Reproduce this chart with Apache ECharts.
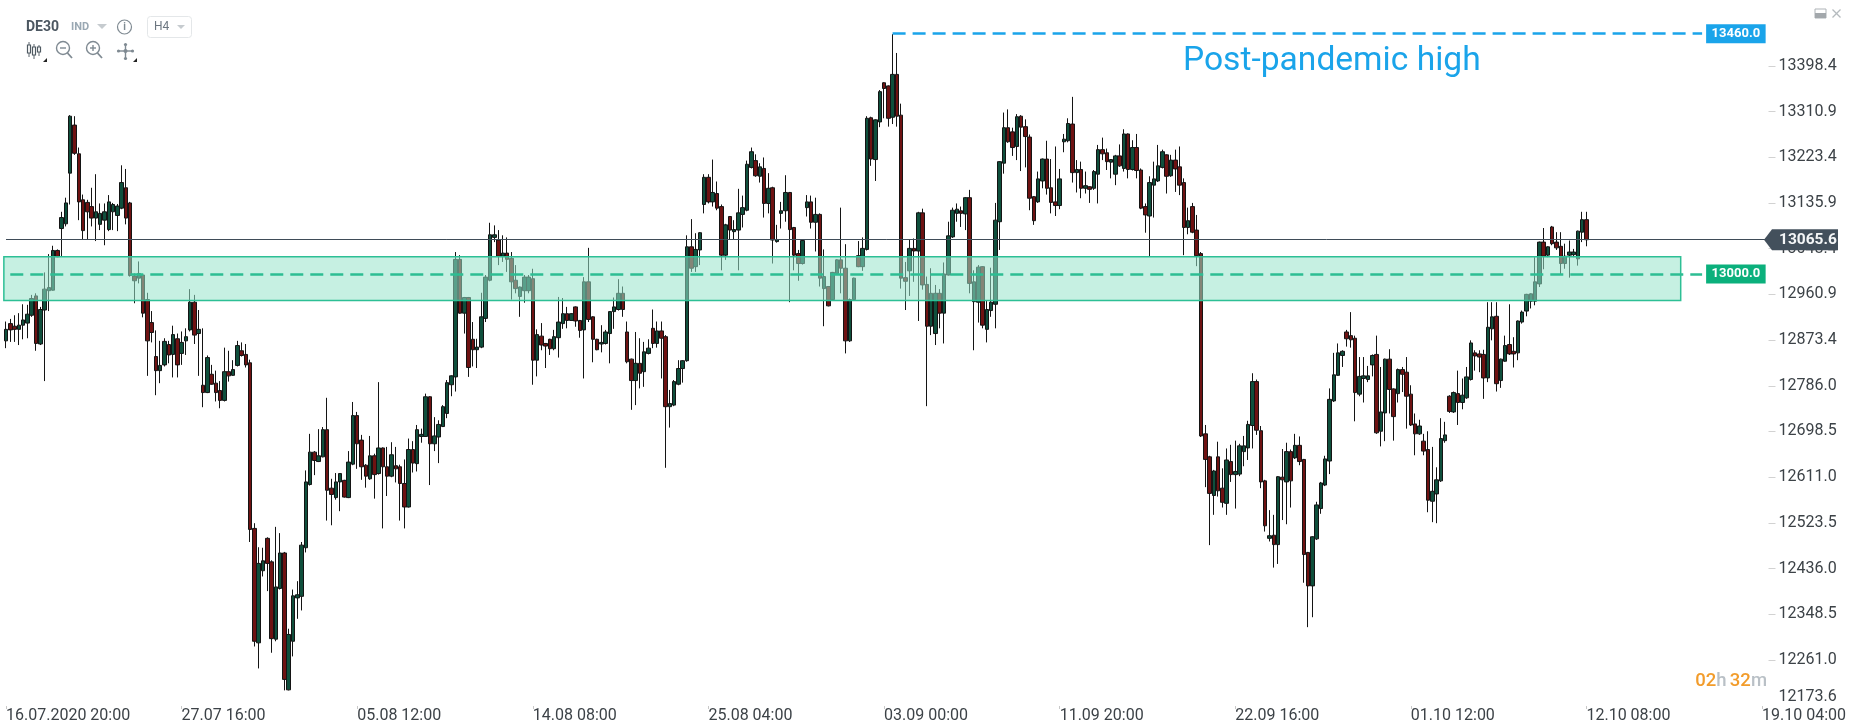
<!DOCTYPE html>
<html><head><meta charset="utf-8"><style>html,body{margin:0;padding:0;background:#fff}#c{width:1851px;height:726px}</style>
<script src="https://cdn.jsdelivr.net/npm/echarts@6/dist/echarts.min.js"></script></head><body><div id="c"></div><script>
// each row: open, close, low, high  — grouped by the x-axis tick interval they start in
var bars_0716=[[12872,12894,12858,12909],[12905,12893,12870,12914],[12900,12894,12870,12921],[12894,12902,12864,12925],[12902,12912,12875,12942],[12906,12923,12877,12941],[12921,12953,12918,12960],[12958,12867,12853,12963],[12866,12932,12864,12937],[12931,12971,12795,13003],[12968,12974,12929,13038],[12969,13045,12968,13054],[13045,13033,13032,13047],[13087,13108,13033,13119],[13096,13136,13091,13146],[13193,13302,13133,13304],[13285,13231,13228,13302],[13230,13138,13103,13242],[13142,13083,13066,13152],[13137,13119,13066,13142],[13129,13107,13091,13165],[13107,13119,13063,13191],[13095,13116,13084,13135],[13103,13119,13055,13135],[13085,13138,13082,13151],[13119,13133,13084,13136],[13112,13130,13082,13134],[13126,13175,13124,13208],[13165,13107,13095,13201],[13136,12997,12995,13138],[12996,12987,12944,13001],[12992,13001,12982,13024],[12998,12925,12917,13000],[12951,12872,12805,12964],[12907,12888,12869,12929],[12842,12815,12768,12892],[12815,12825,12791,12872],[12826,12871,12823,12877],[12865,12845,12829,12872],[12846,12884,12802,12901],[12876,12826,12802,12886]];
var bars_0727=[[12848,12869,12826,12890],[12872,12880,12845,12896],[12893,12946,12890,12971],[12946,12883,12866,12960],[12886,12894,12805,12931],[12787,12773,12745,12896],[12773,12840,12772,12844],[12808,12789,12788,12826],[12791,12773,12756,12815],[12777,12758,12743,12795],[12758,12813,12756,12859],[12813,12805,12794,12853],[12806,12817,12805,12835],[12825,12863,12823,12872],[12853,12844,12842,12869],[12846,12826,12821,12866],[12830,12511,12487,12836],[12513,12297,12287,12523],[12294,12446,12245,12477],[12432,12451,12421,12476],[12494,12446,12393,12496],[12449,12302,12275,12452],[12301,12401,12297,12516],[12398,12466,12396,12504],[12466,12224,12203,12468],[12204,12310,12203,12321],[12297,12384,12268,12396],[12380,12386,12340,12412],[12383,12481,12356,12487],[12476,12602,12467,12624],[12597,12659,12595,12694],[12659,12643,12615,12661],[12641,12652,12640,12703],[12650,12702,12649,12707],[12702,12586,12528,12763],[12590,12578,12519,12608],[12572,12602,12568,12619],[12602,12618,12546,12619],[12605,12573,12572,12606],[12572,12640,12571,12661],[12636,12729,12634,12755]];
var bars_0805=[[12729,12675,12627,12736],[12682,12631,12606,12692],[12634,12613,12591,12636],[12608,12652,12606,12690],[12652,12616,12570,12656],[12618,12667,12616,12793],[12667,12631,12513,12668],[12631,12613,12575,12669],[12613,12654,12611,12678],[12633,12627,12601,12669],[12631,12599,12528,12635],[12599,12554,12513,12645],[12554,12664,12553,12685],[12664,12638,12620,12680],[12637,12702,12622,12711],[12689,12693,12677,12704],[12689,12765,12688,12771],[12765,12675,12596,12766],[12675,12690,12661,12726],[12688,12712,12638,12720],[12708,12746,12707,12749],[12733,12792,12724,12797],[12788,12805,12766,12806],[12803,13028,12775,13042],[13028,12925,12924,13036],[12925,12955,12886,12956],[12955,12821,12803,12956],[12875,12855,12823,12908],[12855,12860,12820,12876],[12860,12918,12858,12964],[12915,12994,12908,12998],[12988,13075,12986,13098],[13070,13075,13061,13093],[13065,13034,13017,13084],[13034,13040,13023,13074],[13040,13028,13004,13070],[13030,12985,12951,13042],[12988,12972,12963,13017],[12957,12975,12918,12976],[12968,12994,12945,12998],[12968,12994,12963,12998]];
var bars_0814=[[12991,12835,12788,13010],[12835,12884,12804,12894],[12881,12864,12854,12906],[12867,12862,12820,12868],[12875,12857,12845,12876],[12857,12880,12854,12893],[12878,12908,12840,12956],[12905,12924,12895,12954],[12924,12911,12896,12937],[12911,12924,12911,12925],[12937,12910,12899,12938],[12911,12892,12878,12912],[12893,12985,12800,12994],[12985,12913,12908,13050],[12918,12875,12831,12919],[12875,12855,12854,12876],[12866,12869,12850,12902],[12867,12889,12865,12893],[12886,12928,12829,12929],[12928,12937,12895,12955],[12932,12963,12930,12990],[12963,12932,12918,12976],[12889,12832,12829,12909],[12837,12796,12740,12838],[12796,12829,12749,12889],[12829,12810,12781,12877],[12813,12851,12784,12870],[12848,12858,12846,12875],[12896,12867,12858,12932],[12867,12891,12859,12909],[12891,12877,12800,12909],[12880,12746,12629,12883],[12746,12752,12706,12778],[12749,12794,12747,12797],[12789,12819,12787,12835],[12819,12834,12792,12835],[12834,13052,12832,13074],[13052,13011,13004,13105],[13014,13047,13004,13078],[13046,13079,13017,13080],[13133,13185,13116,13191]];
var bars_0825=[[13185,13138,13135,13191],[13138,13156,13129,13219],[13154,13126,13122,13177],[13129,13036,13007,13133],[13036,13094,13027,13096],[13110,13084,13066,13111],[13081,13085,13066,13103],[13084,13117,13007,13163],[13114,13127,13089,13150],[13122,13210,13120,13217],[13204,13234,13202,13242],[13217,13188,13186,13229],[13187,13205,13175,13212],[13202,13135,13108,13223],[13135,13164,13116,13193],[13165,13065,13020,13167],[13062,13066,13060,13094],[13116,13121,13087,13138],[13121,13156,13100,13189],[13156,13085,12946,13157],[13089,13036,13007,13090],[13039,13020,12987,13046],[13020,13064,13018,13065],[13127,13138,13110,13151],[13138,13099,13087,13150],[13099,13114,13043,13146],[13114,12992,12976,13116],[12972,12995,12900,13047],[12976,12939,12938,12977],[12951,13003,12950,13004],[13001,13027,13001,13028],[13027,13011,12963,13127],[13011,12872,12848,13057],[12872,12951,12870,12953],[12951,12992,12950,12993],[13035,13014,13013,13063],[13014,13049,13006,13070],[13047,13298,13045,13302],[13299,13220,13207,13301],[13219,13295,13178,13296],[13291,13349,13281,13352]];
var bars_0903=[[13366,13355,13298,13367],[13360,13298,13282,13361],[13300,13382,13287,13459],[13382,13302,13282,13423],[13304,12992,12972,13326],[12993,12986,12931,13023],[13006,13049,12958,13065],[13049,13044,12985,13068],[13044,13117,12910,13119],[13117,12979,12970,13125],[12980,12900,12747,12995],[12900,12963,12883,13011],[12886,12963,12864,12979],[12963,12925,12896,12971],[12925,13000,12867,13022],[12998,13073,12997,13100],[13071,13122,13069,13127],[13116,13124,13100,13135],[13121,13116,13090,13129],[13115,13146,13084,13147],[13146,12982,12963,13161],[12947,12985,12854,13007],[12946,13013,12907,13017],[13014,12902,12896,13015],[12894,12932,12869,12949],[12930,12946,12918,13012],[12942,13103,12896,13136],[13100,13215,13046,13216],[13212,13280,13192,13309],[13280,13253,13251,13315],[13272,13242,13226,13280],[13244,13301,13218,13306],[13302,13281,13197,13304],[13282,13263,13204,13296],[13262,13145,13122,13267],[13148,13102,13094,13149],[13138,13182,13136,13196],[13178,13220,13164,13221],[13220,13164,13152,13255],[13165,13137,13116,13220],[13138,13131,13111,13244]];
var bars_0911=[[13131,13182,13124,13201],[13253,13258,13233,13268],[13255,13288,13252,13298],[13287,13194,13175,13339],[13194,13200,13156,13218],[13200,13164,13145,13215],[13164,13169,13154,13196],[13167,13162,13136,13168],[13164,13196,13161,13199],[13191,13238,13135,13247],[13238,13230,13218,13261],[13232,13215,13199,13240],[13214,13219,13183,13220],[13191,13226,13170,13228],[13226,13207,13205,13248],[13202,13268,13196,13277],[13268,13200,13183,13269],[13200,13242,13198,13256],[13242,13198,13183,13268],[13199,13126,13124,13202],[13129,13113,13079,13135],[13111,13175,13033,13187],[13170,13182,13108,13215],[13178,13207,13176,13247],[13204,13234,13202,13238],[13228,13187,13154,13229],[13188,13218,13186,13228],[13218,13201,13157,13238],[13205,13170,13151,13244],[13175,13089,13036,13183],[13089,13102,13076,13127],[13129,13080,13078,13136],[13084,13035,13015,13113],[13039,12690,12688,13042],[12694,12645,12592,12711],[12650,12580,12481,12652],[12576,12623,12539,12625],[12650,12585,12574,12679],[12590,12563,12553,12628],[12561,12644,12539,12666],[12641,12616,12602,12673]];
var bars_0922=[[12616,12622,12551,12681],[12617,12671,12613,12675],[12660,12671,12632,12690],[12667,12712,12644,12719],[12710,12794,12666,12810],[12794,12701,12692,12798],[12700,12602,12590,12709],[12604,12518,12507,12606],[12494,12499,12488,12548],[12500,12482,12438,12539],[12482,12612,12445,12613],[12611,12606,12529,12665],[12602,12660,12521,12677],[12660,12604,12553,12664],[12648,12672,12646,12694],[12672,12641,12634,12689],[12645,12463,12409,12646],[12467,12403,12324,12468],[12403,12497,12343,12498],[12493,12558,12491,12564],[12551,12600,12541,12602],[12596,12646,12594,12652],[12642,12760,12617,12781],[12757,12807,12755,12849],[12806,12849,12805,12867],[12844,12852,12822,12854],[12889,12876,12861,12893],[12882,12874,12859,12927],[12877,12773,12718,12882],[12770,12804,12766,12841],[12800,12805,12754,12841],[12798,12805,12793,12824],[12826,12844,12804,12846],[12846,12696,12694,12882],[12699,12736,12670,12822],[12734,12837,12680,12838],[12837,12779,12733,12856],[12780,12727,12681,12781],[12771,12817,12754,12819],[12817,12808,12774,12822],[12812,12766,12704,12841]];
var bars_1001=[[12770,12711,12709,12787],[12713,12694,12653,12733],[12694,12709,12692,12721],[12680,12661,12653,12694],[12664,12567,12544,12699],[12565,12584,12525,12669],[12579,12606,12523,12630],[12604,12685,12602,12724],[12681,12692,12677,12717],[12766,12737,12734,12768],[12736,12773,12734,12775],[12771,12754,12711,12815],[12754,12768,12741,12800],[12763,12803,12761,12822],[12798,12868,12796,12873],[12849,12843,12815,12854],[12847,12841,12812,12854],[12846,12801,12761,12855],[12801,12898,12793,12946],[12895,12918,12873,12946],[12919,12790,12775,12946],[12796,12837,12782,12838],[12833,12863,12832,12882],[12865,12847,12845,12942],[12852,12847,12821,12879],[12849,12910,12835,12911],[12908,12927,12905,12930],[12929,12961,12919,12962],[12948,12962,12934,12963],[12948,12985,12940,13032],[12981,13061,12975,13062],[13061,13034,13009,13088],[13036,13052,13032,13053],[13090,13058,13055,13092],[13061,13050,13046,13080],[13053,13020,13000,13080],[13020,13034,13010,13058],[13036,13042,12993,13064],[13037,13042,13032,13048],[13029,13082,13016,13083],[13080,13104,13061,13119]];
var bars_1012=[[13104,13065.6,13053,13119]];
var xTickLabels=['16.07.2020 20:00','27.07 16:00','05.08 12:00','14.08 08:00','25.08 04:00','03.09 00:00','11.09 20:00','22.09 16:00','01.10 12:00','12.10 08:00','19.10 04:00'];
var yTickValues=[13398.4,13310.9,13223.4,13135.9,13048.4,12960.9,12873.4,12786.0,12698.5,12611.0,12523.5,12436.0,12348.5,12261.0];
var yBottomLabel=12173.6;
var highLevel=13460, supportLevel=13000, bandTop=13033, bandBottom=12949, lastPrice=13065.6;

var TICK_EVERY=41, SLOTS=412;
var bars=[].concat(bars_0716,bars_0727,bars_0805,bars_0814,bars_0825,bars_0903,bars_0911,bars_0922,bars_1001,bars_1012);
var categories=[];for(var i=0;i<SLOTS;i++)categories.push(String(i));
var F='Roboto, sans-serif';
var BLUE='#1aa4ea', GREEN='#2dbd93', GREENTAG='#0bb07c';
var chart=echarts.init(document.getElementById('c'),null,{renderer:'canvas'});
var dashed=function(c,w){return {type:[13,7],color:c,width:w,opacity:1};};
chart.setOption({
  animation:false,
  backgroundColor:'#fff',
  grid:{left:3.86,right:82.5,top:0,height:706,containLabel:false},
  xAxis:{type:'category',data:categories,boundaryGap:true,
    axisLine:{show:false},
    axisTick:{show:true,alignWithLabel:true,length:3,lineStyle:{color:'#c8c8c8'},interval:function(i){return i%TICK_EVERY===0;}},
    axisLabel:{show:true,interval:function(i){return i%TICK_EVERY===0;},align:'left',margin:2,color:'#3c4247',fontFamily:F,fontSize:16,hideOverlap:false,
      formatter:function(v,i){return xTickLabels[i/TICK_EVERY]||'';}},
    splitLine:{show:false}},
  yAxis:{type:'value',position:'right',min:12173.1,max:13524.4,scale:true,
    axisLine:{show:false},
    axisTick:{show:true,length:7,lineStyle:{color:'#d2d2d2'},customValues:yTickValues},
    axisLabel:{show:true,margin:10,color:'#3c4247',fontFamily:F,fontSize:16,
      customValues:yTickValues.concat([yBottomLabel]),
      formatter:function(v){var s=v.toFixed(1);return v===yBottomLabel?'{b|'+s+'}':s;},
      rich:{b:{color:'#3c4247',fontFamily:F,fontSize:16,padding:[0,0,18,0]}}},
    splitLine:{show:false}},
  series:[
    {type:'candlestick',name:'DE30',data:bars,barWidth:4,z:2,clip:false,
      itemStyle:{color:'#0f4f3c',color0:'#6e1212',borderColor:'#141414',borderColor0:'#141414',borderWidth:1}},
    {type:'line',name:'levels',data:[],z:5,silent:true,
      markArea:{silent:true,z:5,itemStyle:{color:'rgba(151,227,202,0.55)',borderColor:'#2dbf95',borderWidth:1.5},
        data:[[{xAxis:'min',yAxis:bandTop},{xAxis:390.6,yAxis:bandBottom}]]},
      markLine:{silent:true,z:6,symbol:'none',animation:false,
        data:[
          [{coord:[207,highLevel],lineStyle:dashed(BLUE,2.5),label:{show:true,position:'end',formatter:highLevel.toFixed(1),backgroundColor:BLUE,color:'#fff',fontFamily:F,fontWeight:700,fontSize:13,padding:[3,5.5,3,5.5],distance:4,align:'left'}},{coord:[396,highLevel]}],
          [{coord:[1,supportLevel],lineStyle:dashed(GREEN,2.5),label:{show:true,position:'end',formatter:supportLevel.toFixed(1),backgroundColor:GREENTAG,color:'#fff',fontFamily:F,fontWeight:700,fontSize:13,padding:[3,5.5,3,5.5],distance:4,align:'left'}},{coord:[396,supportLevel]}],
          [{coord:[0,lastPrice],lineStyle:{type:'solid',color:'#3f4c58',width:1},label:{show:false}},{coord:[411,lastPrice]}]
        ]}}
  ]
});
var tagY=chart.convertToPixel({yAxisIndex:0},lastPrice);
var icon='#7f8a92';
var g=[
 {type:'text',left:1183,top:45,style:{text:'Post-pandemic high',fill:BLUE,font:'400 33.6px '+F}},
 {type:'polygon',shape:{points:[[1764,tagY],[1772,tagY-10.5],[1838,tagY-10.5],[1838,tagY+10.5],[1772,tagY+10.5]]},style:{fill:'#43505c'},z:20},
 {type:'text',z:21,style:{x:1779,y:tagY,text:lastPrice.toFixed(1),fill:'#f4f6f7',font:'700 15.5px '+F,verticalAlign:'middle'}},
 {type:'text',z:21,style:{x:1767,y:681,align:'right',verticalAlign:'middle',text:'{a|02}{b|h} {a|32}{b|m}',rich:{a:{fill:'#f29c2b',font:'500 18.5px '+F},b:{fill:'#b9c0c6',font:'500 18.5px '+F}}}},
 {type:'text',style:{x:26,y:27,text:'DE30',fill:'#4c5761',font:'700 14px '+F,verticalAlign:'middle'}},
 {type:'text',style:{x:71,y:27,text:'IND',fill:'#9aa8b3',font:'700 11px '+F,verticalAlign:'middle'}},
 {type:'polygon',shape:{points:[[97,24],[107,24],[102,29]]},style:{fill:'#c6cbcf'}},
 {type:'circle',shape:{cx:124.5,cy:27,r:7},style:{fill:'none',stroke:icon,lineWidth:1.2}},
 {type:'text',style:{x:124.5,y:27,text:'i',align:'center',verticalAlign:'middle',fill:icon,font:'700 10px '+F}},
 {type:'rect',shape:{x:147.5,y:16.5,width:44,height:21,r:3},style:{fill:'#fff',stroke:'#e4e7e9',lineWidth:1}},
 {type:'text',style:{x:154,y:27,text:'H4',fill:'#6c7680',font:'400 12px '+F,verticalAlign:'middle'}},
 {type:'polygon',shape:{points:[[177,25],[185,25],[181,29]]},style:{fill:'#c6cbcf'}},
 // candle icon
 {type:'line',shape:{x1:29,y1:42,x2:29,y2:57},style:{stroke:'#5b656d',lineWidth:1}},
 {type:'rect',shape:{x:27.5,y:45,width:3,height:8},style:{fill:'#fff',stroke:'#4f5a62',lineWidth:1.2}},
 {type:'line',shape:{x1:34,y1:44,x2:34,y2:59},style:{stroke:'#5b656d',lineWidth:1}},
 {type:'rect',shape:{x:32.5,y:47,width:3,height:8},style:{fill:'#fff',stroke:'#4f5a62',lineWidth:1.2}},
 {type:'line',shape:{x1:39,y1:45,x2:39,y2:56},style:{stroke:'#5b656d',lineWidth:1}},
 {type:'rect',shape:{x:37.5,y:47,width:3,height:5},style:{fill:'#fff',stroke:'#4f5a62',lineWidth:1.2}},
 {type:'polygon',shape:{points:[[47,58],[47,62],[43,62]]},style:{fill:'#222'}},
 // zoom out / in
 {type:'circle',shape:{cx:63,cy:48,r:6.5},style:{fill:'none',stroke:icon,lineWidth:1.4}},
 {type:'line',shape:{x1:67.5,y1:53,x2:72,y2:58},style:{stroke:icon,lineWidth:1.8}},
 {type:'line',shape:{x1:60,y1:48,x2:66,y2:48},style:{stroke:icon,lineWidth:1.4}},
 {type:'circle',shape:{cx:93,cy:48,r:6.5},style:{fill:'none',stroke:icon,lineWidth:1.4}},
 {type:'line',shape:{x1:97.5,y1:53,x2:102,y2:58},style:{stroke:icon,lineWidth:1.8}},
 {type:'line',shape:{x1:90,y1:48,x2:96,y2:48},style:{stroke:icon,lineWidth:1.4}},
 {type:'line',shape:{x1:93,y1:45,x2:93,y2:51},style:{stroke:icon,lineWidth:1.4}},
 // move
 {type:'line',shape:{x1:118,y1:51,x2:133,y2:51},style:{stroke:icon,lineWidth:1.4}},
 {type:'line',shape:{x1:125.5,y1:44,x2:125.5,y2:59},style:{stroke:icon,lineWidth:1.4}},
 {type:'circle',shape:{cx:125.5,cy:51,r:2},style:{fill:icon}},
 {type:'circle',shape:{cx:118.5,cy:51,r:1.6},style:{fill:icon}},
 {type:'circle',shape:{cx:132.5,cy:51,r:1.6},style:{fill:icon}},
 {type:'circle',shape:{cx:125.5,cy:44.5,r:1.6},style:{fill:icon}},
 {type:'circle',shape:{cx:125.5,cy:58.5,r:1.6},style:{fill:icon}},
 {type:'polygon',shape:{points:[[137,58],[137,62],[133,62]]},style:{fill:'#222'}},
 // window buttons
 {type:'rect',shape:{x:1815,y:9,width:11,height:9},style:{fill:'#fff',stroke:'#aeb3b7',lineWidth:1}},
 {type:'rect',shape:{x:1815,y:13,width:11,height:5},style:{fill:'#a3a8ac'}},
 {type:'line',shape:{x1:1832.5,y1:9.5,x2:1840.5,y2:17.5},style:{stroke:'#b5babe',lineWidth:1.3}},
 {type:'line',shape:{x1:1840.5,y1:9.5,x2:1832.5,y2:17.5},style:{stroke:'#b5babe',lineWidth:1.3}}
];
chart.setOption({graphic:g});
</script></body></html>
